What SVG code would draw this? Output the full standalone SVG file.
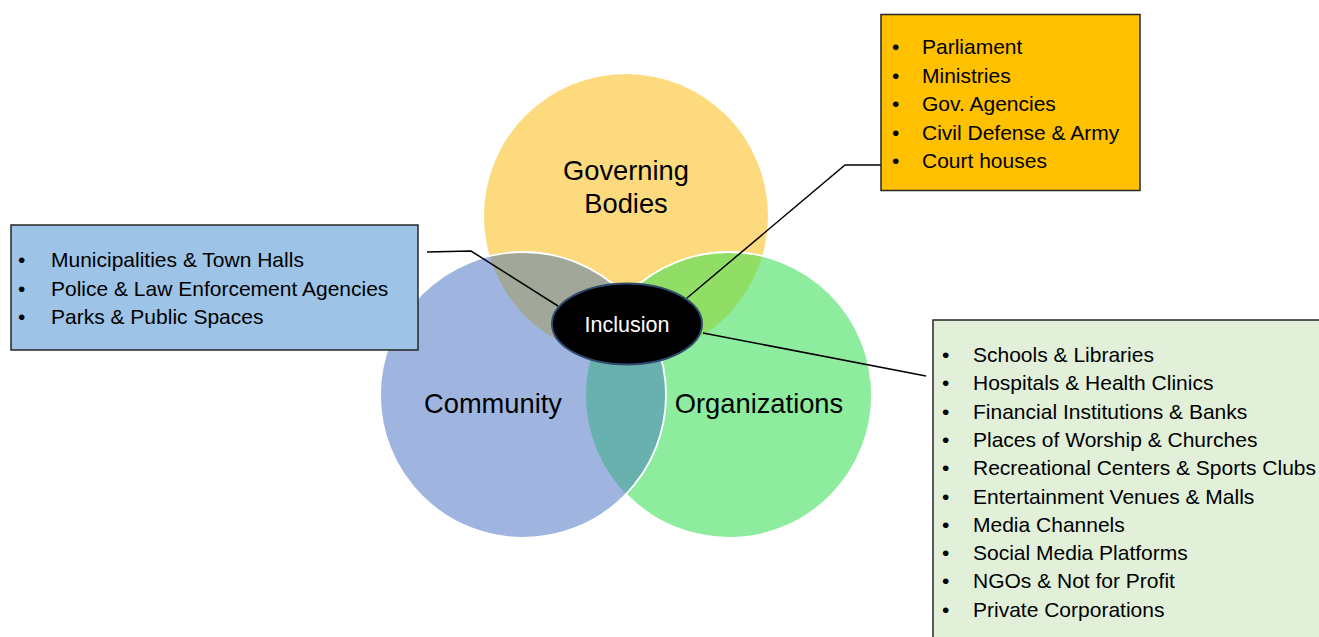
<svg xmlns="http://www.w3.org/2000/svg" width="1319" height="637" viewBox="0 0 1319 637">
<style>
.lst{font-family:"Liberation Sans",Arial,sans-serif;font-size:21px;fill:#000}
.big{font-family:"Liberation Sans",Arial,sans-serif;font-size:27.3px;fill:#000;text-anchor:middle}
.box{stroke:#262626;stroke-width:1.5}
.conn{fill:none;stroke:#000;stroke-width:1.5}
.ring{fill:none;stroke:#fff;stroke-width:1.8}
</style>
<defs>
<clipPath id="cY"><circle cx="626" cy="216" r="142"/></clipPath>
<clipPath id="cG"><circle cx="729" cy="395" r="143"/></clipPath>
</defs>
<rect width="1319" height="637" fill="#fff"/>
<g id="venn">
<g id="governing">
<circle cx="626" cy="216" r="142" fill="#FDDA7E"/>
</g>
<g id="organizations">
<circle cx="729" cy="395" r="143" fill="#8EEC9E"/>
<circle cx="729" cy="395" r="143" fill="#91DE66" clip-path="url(#cY)"/>
<circle cx="729" cy="395" r="143" class="ring"/>
</g>
<g id="community">
<circle cx="523" cy="395" r="143" fill="#9FB5DF"/>
<circle cx="523" cy="395" r="143" fill="#A1A899" clip-path="url(#cY)"/>
<circle cx="523" cy="395" r="143" fill="#69B1AF" clip-path="url(#cG)"/>
<g clip-path="url(#cY)"><circle cx="523" cy="395" r="143" fill="#6FA98C" clip-path="url(#cG)"/></g>
<circle cx="523" cy="395" r="143" class="ring"/>
</g>
<text class="big" x="626" y="180">Governing</text>
<text class="big" x="626" y="213">Bodies</text>
<text class="big" x="493" y="413">Community</text>
<text class="big" x="759" y="413">Organizations</text>
</g>
<g id="connectors">
<polyline class="conn" points="427,252 471,251 558,306"/>
<polyline class="conn" points="687,298 845,165 881,165"/>
<polyline class="conn" points="703,333 926,376"/>
</g>
<g id="inclusion">
<ellipse cx="627" cy="324" rx="75" ry="40.5" fill="#000" stroke="#2F4B6E" stroke-width="2"/>
<text x="627" y="332" font-family="Liberation Sans, Arial, sans-serif" font-size="21.5" fill="#fff" text-anchor="middle">Inclusion</text>
</g>
<g id="gov-box">
<rect class="box" x="881" y="14.5" width="259" height="176" fill="#FFC000"/>
<g class="lst">
<text x="892" y="54">•</text><text x="922" y="54">Parliament</text>
<text x="892" y="82.5">•</text><text x="922" y="82.5">Ministries</text>
<text x="892" y="111">•</text><text x="922" y="111">Gov. Agencies</text>
<text x="892" y="139.5">•</text><text x="922" y="139.5">Civil Defense &amp; Army</text>
<text x="892" y="168">•</text><text x="922" y="168">Court houses</text>
</g>
</g>
<g id="community-box">
<rect class="box" x="11" y="225" width="407" height="125" fill="#9DC3E6"/>
<g class="lst">
<text x="18" y="267">•</text><text x="51" y="267">Municipalities &amp; Town Halls</text>
<text x="18" y="295.5">•</text><text x="51" y="295.5">Police &amp; Law Enforcement Agencies</text>
<text x="18" y="324">•</text><text x="51" y="324">Parks &amp; Public Spaces</text>
</g>
</g>
<g id="org-box">
<rect class="box" x="933" y="320" width="400" height="330" fill="#E2F0D9"/>
<g class="lst">
<text x="942" y="362">•</text><text x="973" y="362">Schools &amp; Libraries</text>
<text x="942" y="390.3">•</text><text x="973" y="390.3">Hospitals &amp; Health Clinics</text>
<text x="942" y="418.6">•</text><text x="973" y="418.6">Financial Institutions &amp; Banks</text>
<text x="942" y="446.9">•</text><text x="973" y="446.9">Places of Worship &amp; Churches</text>
<text x="942" y="475.2">•</text><text x="973" y="475.2" textLength="343" lengthAdjust="spacingAndGlyphs">Recreational Centers &amp; Sports Clubs</text>
<text x="942" y="503.5">•</text><text x="973" y="503.5">Entertainment Venues &amp; Malls</text>
<text x="942" y="531.8">•</text><text x="973" y="531.8">Media Channels</text>
<text x="942" y="560.1">•</text><text x="973" y="560.1">Social Media Platforms</text>
<text x="942" y="588.4">•</text><text x="973" y="588.4">NGOs &amp; Not for Profit</text>
<text x="942" y="616.7">•</text><text x="973" y="616.7">Private Corporations</text>
</g>
</g>
</svg>
